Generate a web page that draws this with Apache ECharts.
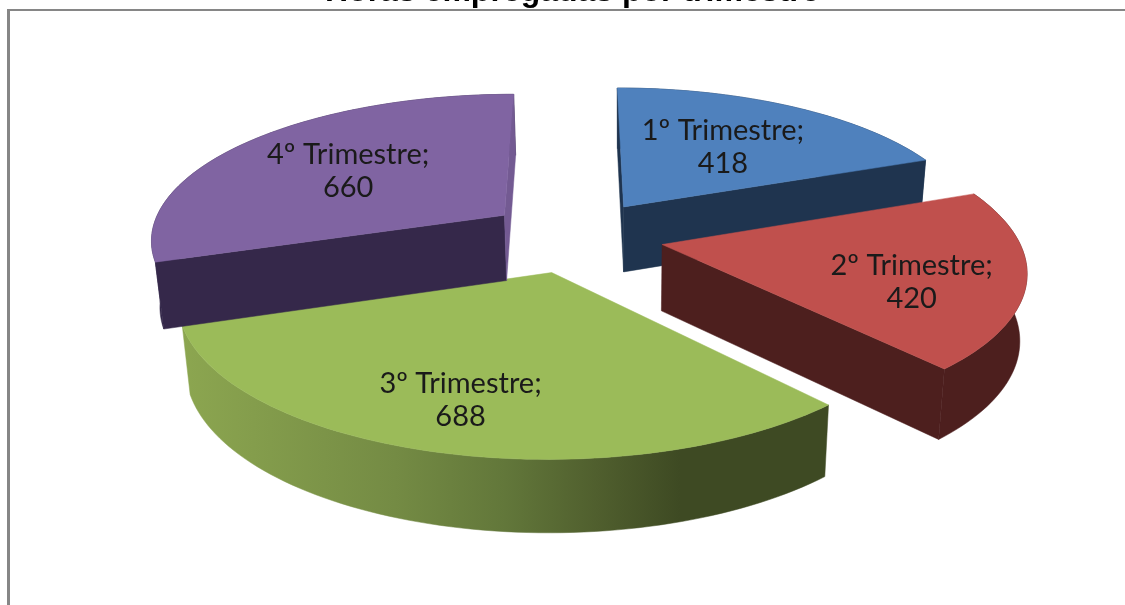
<!DOCTYPE html>
<html><head><meta charset="utf-8">
<style>html,body{margin:0;padding:0;background:#fff}#c{width:1125px;height:605px}</style>
<script src="https://cdn.jsdelivr.net/npm/echarts@6/dist/echarts.min.js"></script>
</head><body><div id="c"></div>
<script>
const titleText = 'Horas empregadas por trimestre';
const categories = ['1º Trimestre', '2º Trimestre', '3º Trimestre', '4º Trimestre'];
const values = [418, 420, 688, 660];

const topColors = ['#4F81BD', '#C0504D', '#9BBB59', '#8064A2'];
const sideColors = ['#1F344F', '#4D1F1E', '#3E4A23', '#35284A'];
const endFaceColors = ['#1F344F', '#4D1F1E', '#3E4A23', '#735A92'];
const paintOrder = [3, 4, 1, 2];
const labelNudge = [[-6, 3], [34, 17], [-27, 27], [1, 2]];

const view = {cx: 575, cy: 236, A: 355, B: 145.5, k: 0.154, explode: 0.25, depth: 66, shrink: 0.982, vanishX: 622, labelR: 0.6};
const total = values.reduce((a, b) => a + b, 0);

function project(X, Y) {
  const w = 1 + view.k * Y;
  return {x: view.cx + view.A * X / w, y: view.cy - view.B * Y / w, w};
}
function below(p) {
  return [view.vanishX + (p.x - view.vanishX) * view.shrink, p.y + view.depth / Math.sqrt(p.w)];
}
function faces(apex, edge, ref) {
  const dx = edge.x - apex.x, dy = edge.y - apex.y;
  return (dx * (ref.y - apex.y) - dy * (ref.x - apex.x)) * dx < 0;
}
function renderSlice(params, api) {
  const i = params.dataIndex;
  const v = api.value(0);
  let before = 0;
  for (let j = 0; j < i; j++) before += values[j];
  const a0 = before / total * Math.PI * 2;
  const a1 = (before + v) / total * Math.PI * 2;
  const mid = (a0 + a1) / 2;
  const ox = view.explode * Math.sin(mid), oy = view.explode * Math.cos(mid);
  const at = (a, r) => project(ox + r * Math.sin(a), oy + r * Math.cos(a));
  const apex = at(0, 0);
  const arc = [];
  const n = Math.ceil((a1 - a0) / (Math.PI / 120));
  for (let s = 0; s <= n; s++) arc.push(at(a0 + (a1 - a0) * s / n, 1));
  const xy = p => [p.x, p.y];
  const dark = sideColors[i];
  const sideFill = i === 2
    ? new echarts.graphic.LinearGradient(0, 0, 1, 0, [
        {offset: 0, color: '#8CA650'}, {offset: 0.33, color: '#748B44'}, {offset: 0.5, color: '#62773A'},
        {offset: 0.64, color: '#505F2E'}, {offset: 0.77, color: dark}, {offset: 1, color: dark}])
    : dark;
  const z = paintOrder[i] * 10;
  const face = (pts, fill, dz) => ({type: 'polygon', z2: z + dz, shape: {points: pts},
    style: {fill, stroke: fill, lineWidth: 0.5}});
  const first = arc[0], last = arc[arc.length - 1];
  const midPt = at(mid, 1);
  const lp = at(mid, view.labelR);
  const children = [face(arc.map(xy).concat(arc.slice().reverse().map(below)), sideFill, 0)];
  if (faces(apex, first, midPt)) children.push(face([xy(apex), xy(first), below(first), below(apex)], dark, 1));
  if (faces(apex, last, midPt)) children.push(face([xy(apex), xy(last), below(last), below(apex)], endFaceColors[i], 2));
  children.push(
    face([xy(apex)].concat(arc.map(xy)), topColors[i], 3),
    {type: 'text', z2: 100, style: {
      x: lp.x + labelNudge[i][0], y: lp.y + labelNudge[i][1], text: categories[i] + ';\n' + v,
      align: 'center', verticalAlign: 'middle',
      fontFamily: 'Lato', fontSize: 29, lineHeight: 33, fill: '#1a1a1a'}});
  return {type: 'group', children};
}

const chart = echarts.init(document.getElementById('c'), null, {renderer: 'canvas'});
chart.setOption({
  animation: false,
  backgroundColor: '#fff',
  title: {text: titleText, left: 325, top: -24, padding: 0,
    textStyle: {fontFamily: 'Liberation Sans', fontWeight: 'bold', fontSize: 32, color: '#000'}},
  graphic: [
    {type: 'line', z: 0, shape: {x1: 8.5, y1: 9, x2: 8.5, y2: 605}, style: {stroke: '#868686', lineWidth: 3}},
    {type: 'line', z: 0, shape: {x1: 7, y1: 10, x2: 1125, y2: 10}, style: {stroke: '#868686', lineWidth: 2}}],
  series: [{type: 'custom', coordinateSystem: 'none', renderItem: renderSlice, silent: true,
    data: values.map((v, i) => ({name: categories[i], value: [v]}))}]
});
</script></body></html>
